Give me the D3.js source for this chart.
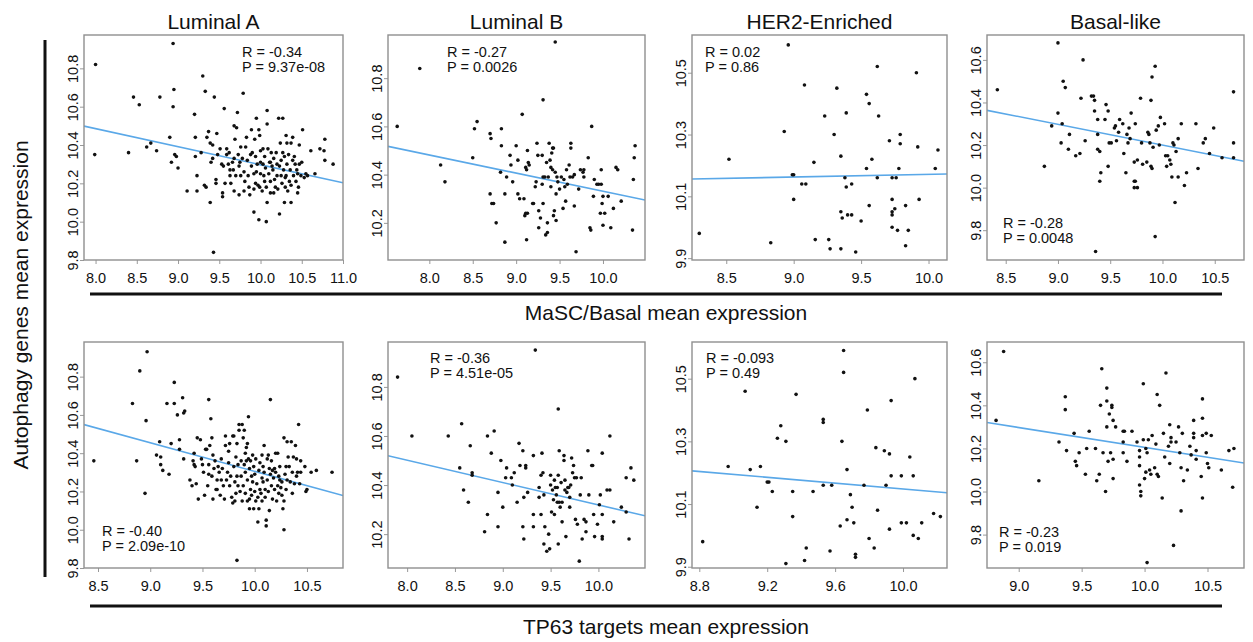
<!DOCTYPE html>
<html>
<head>
<meta charset="utf-8">
<script src="https://cdn.jsdelivr.net/npm/d3@7"></script>
<style>
  body { margin: 0; background: #fff; }
  text { font-family: "Liberation Sans", Arial, sans-serif; fill: #111; }
</style>
</head>
<body>
<div id="chart"></div>
<script>
// column titles / axis labels
const subtypes = ["Luminal A", "Luminal B", "HER2-Enriched", "Basal-like"]
const rowLabels = ["MaSC/Basal mean expression", "TP63 targets mean expression"]
const yTitle = "Autophagy genes mean expression"

// samples [x, y]
const lumA_masc = [[8.00,10.82],[7.99,10.35],[8.94,10.93],[9.30,10.76],[9.33,10.68],[8.46,10.65],[8.53,10.61],[8.78,10.65],[8.95,10.69],[8.94,10.60],[9.44,10.65],[9.56,10.59],[9.79,10.67],[9.72,10.57],[9.20,10.56],[10.08,10.58],[10.08,10.51],[10.22,10.54],[10.27,10.54],[9.95,10.54],[10.51,10.48],[10.78,10.43],[10.88,10.30],[10.78,10.32],[10.77,10.37],[10.72,10.38],[10.66,10.25],[10.61,10.37],[10.47,10.40],[10.57,10.24],[8.40,10.36],[8.62,10.39],[8.67,10.41],[8.74,10.37],[8.90,10.44],[8.92,10.31],[8.96,10.35],[8.98,10.34],[9.00,10.28],[9.11,10.16],[9.23,10.16],[9.23,10.24],[9.21,10.34],[9.21,10.44],[9.28,10.36],[9.32,10.19],[9.34,10.18],[9.39,10.10],[9.35,10.44],[9.37,10.47],[9.39,10.41],[9.40,10.31],[9.47,10.46],[9.42,10.33],[9.42,10.40],[9.43,9.84],[9.46,10.22],[9.46,10.20],[9.54,10.15],[9.54,10.13],[9.51,10.38],[9.53,10.30],[9.55,10.29],[9.57,10.20],[9.59,10.38],[9.59,10.35],[9.61,10.30],[9.63,10.24],[9.64,10.20],[9.68,10.50],[9.69,10.43],[9.68,10.33],[9.68,10.16],[9.67,10.27],[9.70,10.24],[9.71,10.49],[9.73,10.35],[9.74,10.29],[9.74,10.14],[9.76,10.39],[9.78,10.33],[9.80,10.26],[9.81,10.21],[9.82,10.39],[9.83,10.44],[9.84,10.32],[9.85,10.24],[9.87,10.14],[9.88,10.35],[9.89,10.29],[9.89,10.48],[9.92,10.05],[9.93,10.43],[9.94,10.34],[9.94,10.20],[9.96,10.30],[9.97,10.19],[9.98,10.48],[9.98,10.01],[9.99,10.45],[10.00,10.37],[10.00,10.25],[10.02,10.16],[10.03,10.38],[10.03,10.30],[10.04,10.24],[10.05,10.34],[10.06,10.28],[10.07,10.00],[10.07,10.18],[10.08,10.10],[10.09,10.38],[10.10,10.25],[10.11,10.31],[10.12,10.15],[10.13,10.36],[10.15,10.27],[10.16,10.33],[10.17,10.22],[10.18,10.18],[10.20,10.30],[10.20,10.24],[10.21,10.17],[10.23,10.29],[10.23,10.04],[10.24,10.41],[10.25,10.24],[10.25,10.32],[10.26,10.20],[10.28,10.27],[10.29,10.10],[10.29,10.34],[10.30,10.18],[10.31,10.24],[10.31,10.45],[10.32,10.30],[10.33,10.16],[10.34,10.35],[10.36,10.27],[10.37,10.19],[10.37,10.10],[10.39,10.44],[10.39,10.32],[10.40,10.24],[10.42,10.30],[10.43,10.21],[10.44,10.27],[10.45,10.15],[10.46,10.18],[10.47,10.30],[10.49,10.24],[10.50,10.31],[10.53,10.23],[10.55,10.25],[9.99,10.18],[9.92,10.17],[9.86,10.18],[10.12,10.21],[10.16,10.15],[9.63,10.27],[9.76,10.24],[10.12,10.31],[10.32,10.41],[10.37,10.41],[9.92,10.25],[10.00,10.31],[10.45,10.25],[10.30,10.23],[9.48,10.35],[9.62,10.36],[9.66,10.31],[9.75,10.31],[9.90,10.36],[10.05,10.21],[10.14,10.29],[10.19,10.36],[10.27,10.36],[10.35,10.21],[10.41,10.34],[9.80,10.16],[9.95,10.26]]

const lumB_masc = [[7.63,10.60],[7.89,10.84],[9.45,10.95],[9.31,10.71],[9.07,10.65],[9.87,10.60],[8.55,10.62],[8.52,10.59],[8.83,10.59],[8.70,10.57],[8.71,10.55],[8.83,10.52],[9.00,10.52],[8.50,10.47],[8.13,10.44],[8.18,10.37],[8.82,10.41],[8.89,10.39],[8.70,10.32],[8.72,10.28],[8.74,10.28],[8.87,10.32],[8.96,10.37],[8.93,10.48],[8.94,10.44],[9.02,10.46],[9.02,10.32],[9.04,10.30],[9.09,10.30],[9.11,10.43],[9.13,10.50],[9.14,10.45],[9.15,10.44],[9.12,10.42],[9.10,10.23],[9.11,10.24],[9.13,10.24],[8.77,10.20],[8.87,10.12],[9.12,10.13],[9.19,10.28],[9.20,10.28],[9.22,10.35],[9.23,10.37],[9.24,10.53],[9.25,10.48],[9.26,10.25],[9.26,10.18],[9.28,10.22],[9.30,10.48],[9.30,10.36],[9.31,10.39],[9.31,10.28],[9.33,10.39],[9.34,10.15],[9.36,10.16],[9.35,10.45],[9.36,10.20],[9.37,10.39],[9.38,10.53],[9.39,10.46],[9.40,10.43],[9.40,10.35],[9.41,10.49],[9.42,10.42],[9.42,10.51],[9.43,10.23],[9.43,10.51],[9.44,10.25],[9.45,10.41],[9.46,10.32],[9.46,10.21],[9.47,10.39],[9.48,10.37],[9.50,10.34],[9.52,10.39],[9.54,10.26],[9.55,10.38],[9.56,10.35],[9.57,10.29],[9.58,10.42],[9.59,10.36],[9.61,10.44],[9.62,10.39],[9.63,10.53],[9.63,10.51],[9.65,10.39],[9.67,10.27],[9.67,10.40],[9.69,10.08],[9.72,10.34],[9.74,10.42],[9.77,10.41],[9.78,10.42],[9.78,10.39],[9.83,10.47],[9.85,10.18],[9.86,10.17],[9.89,10.31],[9.90,10.38],[9.93,10.36],[9.95,10.36],[9.97,10.24],[9.98,10.42],[9.98,10.36],[9.99,10.28],[10.00,10.31],[10.00,10.19],[10.02,10.24],[10.06,10.31],[10.09,10.18],[10.12,10.26],[10.15,10.43],[10.17,10.42],[10.21,10.29],[10.34,10.17],[10.35,10.38],[10.36,10.47],[10.37,10.52]]

const her2_masc = [[8.96,10.59],[8.30,9.98],[8.52,10.22],[8.83,9.95],[8.93,10.31],[8.99,10.17],[9.00,10.17],[9.00,10.09],[9.06,10.14],[9.09,10.14],[9.08,10.46],[9.15,10.21],[9.16,9.96],[9.23,10.36],[9.27,9.93],[9.26,9.96],[9.30,10.30],[9.32,10.45],[9.35,10.23],[9.35,10.05],[9.36,10.03],[9.35,9.93],[9.38,10.16],[9.39,10.37],[9.39,10.13],[9.40,10.04],[9.43,10.04],[9.43,10.14],[9.46,9.92],[9.50,10.02],[9.54,10.43],[9.54,10.19],[9.56,10.40],[9.56,10.07],[9.58,10.22],[9.62,10.52],[9.62,10.16],[9.63,10.36],[9.71,10.28],[9.73,10.16],[9.73,10.09],[9.73,10.04],[9.73,10.05],[9.75,10.06],[9.73,10.00],[9.77,9.99],[9.78,10.19],[9.79,10.30],[9.79,10.27],[9.76,10.16],[9.85,9.99],[9.83,9.94],[9.83,10.07],[9.91,10.50],[9.92,10.26],[9.93,10.09],[10.05,10.19],[10.07,10.25]]

const basal_masc = [[8.42,10.46],[9.00,10.68],[9.24,10.60],[9.05,10.50],[9.07,10.47],[9.00,10.35],[9.04,10.30],[8.94,10.29],[8.87,10.10],[9.03,10.21],[9.11,10.25],[9.10,10.18],[9.17,10.15],[9.21,10.16],[9.22,10.42],[9.26,10.22],[9.32,10.43],[9.34,10.43],[9.35,10.41],[9.35,10.36],[9.38,10.32],[9.38,10.25],[9.38,10.18],[9.40,10.17],[9.41,10.07],[9.40,10.03],[9.36,9.70],[9.45,10.32],[9.46,10.39],[9.48,10.36],[9.49,10.21],[9.51,10.21],[9.48,10.10],[9.54,10.28],[9.55,10.29],[9.56,10.22],[9.58,10.26],[9.59,10.32],[9.62,10.30],[9.63,10.16],[9.65,10.07],[9.66,10.25],[9.67,10.21],[9.68,10.28],[9.69,10.23],[9.70,10.35],[9.73,10.12],[9.73,10.03],[9.73,10.00],[9.76,10.00],[9.74,10.30],[9.76,10.13],[9.79,10.42],[9.80,10.21],[9.81,10.11],[9.85,10.12],[9.86,10.26],[9.87,10.25],[9.88,10.21],[9.89,10.10],[9.89,10.41],[9.90,10.52],[9.90,10.09],[9.91,10.19],[9.93,10.57],[9.93,9.77],[9.94,10.27],[9.96,10.29],[9.97,10.20],[9.98,10.33],[10.02,10.30],[10.03,10.15],[10.05,10.15],[10.04,10.10],[10.07,10.13],[10.08,10.11],[10.09,10.05],[10.10,10.21],[10.11,10.20],[10.12,9.93],[10.13,10.17],[10.15,10.23],[10.15,10.05],[10.18,10.30],[10.21,10.01],[10.23,10.07],[10.32,10.30],[10.34,10.09],[10.39,10.21],[10.41,10.23],[10.45,10.16],[10.49,10.28],[10.57,10.14],[10.68,10.45],[10.68,10.21],[10.68,10.14],[9.74,10.03]]

const lumA_tp63 = [[8.46,10.36],[8.97,10.93],[8.90,10.83],[9.23,10.77],[8.83,10.66],[8.96,10.57],[8.87,10.36],[8.95,10.19],[9.16,10.66],[9.23,10.66],[9.31,10.69],[9.33,10.62],[9.32,10.61],[9.26,10.60],[9.28,10.47],[9.20,10.45],[9.09,10.46],[9.06,10.39],[9.10,10.38],[9.10,10.34],[9.12,10.31],[9.18,10.29],[9.28,10.42],[9.32,10.37],[9.40,10.23],[9.42,10.40],[9.41,10.36],[9.42,10.34],[9.43,10.33],[9.44,10.24],[9.46,10.16],[9.45,10.48],[9.48,10.47],[9.50,10.34],[9.51,10.30],[9.52,10.18],[9.53,10.42],[9.54,10.42],[9.55,10.23],[9.56,10.34],[9.56,10.29],[9.56,10.68],[9.57,10.44],[9.58,10.58],[9.59,10.28],[9.59,10.48],[9.60,10.16],[9.60,10.39],[9.61,10.32],[9.62,10.36],[9.63,10.21],[9.64,10.26],[9.64,10.21],[9.65,10.33],[9.66,10.30],[9.67,10.18],[9.68,10.37],[9.68,10.26],[9.69,10.32],[9.70,10.23],[9.71,10.16],[9.72,10.44],[9.72,10.49],[9.73,10.26],[9.74,10.30],[9.75,10.35],[9.75,10.41],[9.76,10.45],[9.76,10.23],[9.77,10.28],[9.78,10.17],[9.79,10.49],[9.79,10.14],[9.80,10.33],[9.80,10.49],[9.81,10.25],[9.81,10.15],[9.82,10.19],[9.82,10.38],[9.83,10.28],[9.83,10.45],[9.84,10.23],[9.84,10.34],[9.85,10.52],[9.85,10.55],[9.86,10.20],[9.87,10.36],[9.87,10.28],[9.88,10.55],[9.88,10.15],[9.89,10.48],[9.89,10.23],[9.90,10.52],[9.90,10.34],[9.91,10.40],[9.91,10.30],[9.91,10.19],[9.92,10.43],[9.92,10.36],[9.93,10.15],[9.93,10.45],[9.93,10.26],[9.94,10.37],[9.94,10.59],[9.95,10.16],[9.95,10.32],[9.95,10.11],[9.96,10.21],[9.96,10.36],[9.97,10.28],[9.97,10.18],[9.98,10.39],[9.98,10.25],[9.99,10.11],[9.99,10.33],[10.00,10.20],[10.00,10.29],[10.01,10.15],[10.01,10.37],[10.02,10.24],[10.03,10.04],[10.03,10.17],[10.04,10.31],[10.04,10.11],[10.05,10.21],[10.05,10.35],[10.06,10.19],[10.07,10.27],[10.07,10.15],[10.07,10.39],[10.08,10.25],[10.08,10.33],[10.09,10.44],[10.09,10.30],[10.10,10.21],[10.10,10.17],[10.11,10.05],[10.11,10.02],[10.12,10.37],[10.12,10.26],[10.13,10.39],[10.13,10.20],[10.14,10.10],[10.14,10.32],[10.15,10.68],[10.15,10.29],[10.16,10.36],[10.16,10.23],[10.17,10.16],[10.17,10.31],[10.18,10.27],[10.19,10.32],[10.19,10.21],[10.20,10.40],[10.20,10.30],[10.21,10.15],[10.22,10.23],[10.22,10.40],[10.23,10.28],[10.23,10.19],[10.24,10.26],[10.24,10.33],[10.25,10.22],[10.26,10.18],[10.26,10.25],[10.27,10.11],[10.28,10.15],[10.28,10.00],[10.28,10.48],[10.29,10.29],[10.30,10.33],[10.30,10.21],[10.31,10.46],[10.31,10.26],[10.32,10.38],[10.33,10.33],[10.34,10.25],[10.35,10.46],[10.36,10.19],[10.36,10.30],[10.37,10.38],[10.38,10.24],[10.39,10.44],[10.40,10.37],[10.40,10.28],[10.41,10.30],[10.42,10.55],[10.43,10.24],[10.44,10.36],[10.44,10.30],[10.49,10.20],[10.50,10.21],[10.48,10.33],[10.54,10.30],[10.59,10.31],[10.74,10.30],[9.83,9.84],[9.49,10.37],[9.38,10.26]]

const lumB_tp63 = [[7.90,10.84],[8.05,10.60],[9.34,10.95],[9.58,10.71],[8.43,10.60],[8.57,10.65],[8.66,10.56],[8.55,10.47],[8.59,10.38],[8.64,10.33],[8.68,10.45],[8.68,10.44],[8.84,10.60],[8.91,10.62],[8.88,10.53],[8.84,10.28],[8.81,10.21],[8.95,10.37],[8.95,10.23],[8.98,10.50],[9.00,10.31],[9.03,10.43],[9.04,10.47],[9.09,10.43],[9.10,10.40],[9.12,10.45],[9.15,10.33],[9.17,10.57],[9.18,10.48],[9.21,10.54],[9.22,10.35],[9.21,10.23],[9.22,10.18],[9.24,10.47],[9.24,10.48],[9.26,10.37],[9.32,10.52],[9.32,10.28],[9.32,10.23],[9.38,10.39],[9.38,10.35],[9.40,10.44],[9.40,10.28],[9.41,10.53],[9.42,10.45],[9.43,10.36],[9.43,10.16],[9.44,10.23],[9.46,10.13],[9.48,10.20],[9.49,10.14],[9.50,10.44],[9.50,10.40],[9.51,10.29],[9.52,10.38],[9.53,10.34],[9.54,10.28],[9.54,10.42],[9.55,10.39],[9.56,10.36],[9.57,10.33],[9.57,10.39],[9.58,10.44],[9.58,10.16],[9.59,10.54],[9.59,10.33],[9.60,10.31],[9.61,10.41],[9.62,10.25],[9.62,10.33],[9.64,10.52],[9.64,10.50],[9.65,10.38],[9.65,10.42],[9.66,10.19],[9.67,10.37],[9.68,10.39],[9.69,10.39],[9.70,10.35],[9.70,10.31],[9.71,10.40],[9.72,10.51],[9.73,10.45],[9.74,10.48],[9.75,10.43],[9.76,10.26],[9.77,10.43],[9.78,10.24],[9.80,10.09],[9.81,10.36],[9.82,10.43],[9.83,10.18],[9.85,10.26],[9.87,10.25],[9.87,10.21],[9.89,10.54],[9.90,10.36],[9.93,10.48],[9.94,10.48],[9.95,10.28],[9.96,10.19],[9.99,10.24],[10.01,10.32],[10.02,10.36],[10.04,10.53],[10.04,10.28],[10.04,10.19],[10.04,10.18],[10.09,10.38],[10.12,10.38],[10.12,10.60],[10.16,10.25],[10.24,10.31],[10.29,10.43],[10.29,10.29],[10.32,10.18],[10.34,10.47],[10.37,10.42]]

const her2_tp63 = [[8.82,9.98],[9.65,10.59],[9.65,10.52],[10.07,10.50],[9.07,10.46],[9.37,10.45],[9.93,10.43],[9.79,10.40],[9.53,10.37],[9.53,10.36],[9.28,10.35],[9.26,10.31],[9.31,10.30],[9.64,10.30],[9.84,10.28],[9.89,10.27],[9.92,10.26],[10.04,10.25],[8.97,10.22],[9.10,10.21],[9.16,10.22],[9.67,10.21],[9.20,10.17],[9.21,10.17],[9.99,10.19],[9.93,10.19],[10.06,10.19],[9.23,10.14],[9.35,10.14],[9.47,10.14],[9.53,10.16],[9.58,10.16],[9.77,10.16],[9.90,10.16],[9.69,10.13],[9.14,10.09],[9.35,10.06],[9.70,10.09],[9.85,10.08],[9.67,10.05],[9.71,10.04],[9.63,10.03],[9.99,10.04],[10.02,10.04],[10.11,10.04],[10.18,10.07],[10.22,10.06],[9.92,10.02],[9.80,9.99],[10.06,10.00],[10.09,9.99],[9.43,9.96],[9.57,9.95],[9.72,9.94],[9.72,9.93],[9.83,9.96],[9.42,9.92],[9.31,9.91]]

const basal_tp63 = [[8.82,10.33],[8.88,10.65],[9.16,10.05],[9.32,10.23],[9.37,10.44],[9.37,10.38],[9.38,10.19],[9.44,10.27],[9.45,10.14],[9.46,10.12],[9.48,10.18],[9.53,10.08],[9.54,10.20],[9.56,10.28],[9.61,10.20],[9.62,10.05],[9.64,10.08],[9.65,10.40],[9.66,10.57],[9.67,10.18],[9.69,10.00],[9.70,10.30],[9.70,10.48],[9.70,10.42],[9.71,10.14],[9.72,10.36],[9.73,10.18],[9.74,10.40],[9.74,10.39],[9.75,10.33],[9.75,10.15],[9.75,10.06],[9.77,10.30],[9.83,10.28],[9.83,10.23],[9.83,10.18],[9.84,10.28],[9.86,10.14],[9.90,10.28],[9.94,10.23],[9.96,10.19],[9.96,10.16],[9.96,10.12],[9.96,10.03],[9.97,10.00],[9.97,9.98],[9.99,10.50],[9.99,10.24],[10.01,10.20],[10.02,10.18],[10.03,10.24],[10.02,9.67],[10.01,10.09],[10.04,10.10],[10.05,10.08],[10.06,10.26],[10.08,10.11],[10.09,10.22],[10.10,10.45],[10.10,10.08],[10.11,10.07],[10.12,10.40],[10.14,9.97],[10.15,10.27],[10.16,10.16],[10.17,10.55],[10.19,10.21],[10.20,10.13],[10.20,10.31],[10.21,10.25],[10.21,10.23],[10.23,9.75],[10.25,10.23],[10.27,10.30],[10.28,10.18],[10.29,10.11],[10.30,10.27],[10.29,9.91],[10.31,10.05],[10.34,10.10],[10.36,10.21],[10.37,10.17],[10.39,10.27],[10.39,10.25],[10.39,10.33],[10.41,10.19],[10.41,10.15],[10.45,10.07],[10.46,10.34],[10.46,10.26],[10.46,10.43],[10.46,9.97],[10.49,10.18],[10.49,10.27],[10.50,10.13],[10.51,10.11],[10.53,10.26],[10.61,10.10],[10.67,10.19],[10.71,10.20],[10.70,10.02],[10.00,10.06]]

// correlation stats as printed on each panel
const rText = ["R = -0.34", "R = -0.27", "R = 0.02", "R = -0.28", "R = -0.40", "R = -0.36", "R = -0.093", "R = -0.23"]
const pText = ["P = 9.37e-08", "P = 0.0026", "P = 0.86", "P = 0.0048", "P = 2.09e-10", "P = 4.51e-05", "P = 0.49", "P = 0.019"]

// fitted line y = a + b*x
const fitA = [11.24, 11.084, 10.086, 11.172, 11.802, 11.231, 10.614, 11.125]
const fitB = [-0.0943, -0.0753, 0.0085, -0.0972, -0.1497, -0.0912, -0.0466, -0.092]

// axis limits and tick labels
const xLims = [[7.86, 11.0], [7.524, 10.484], [8.246, 10.137], [8.321, 10.78], [8.366, 10.845], [7.80, 10.487], [8.757, 10.259], [8.748, 10.79]]
const yLims = [[9.8, 10.974], [10.046, 10.979], [9.894, 10.622], [9.66, 10.717], [9.8, 10.981], [10.062, 10.983], [9.896, 10.617], [9.645, 10.694]]
const xTicks = [
    [8.0, 8.5, 9.0, 9.5, 10.0, 10.5, 11.0],
    [8.0, 8.5, 9.0, 9.5, 10.0],
    [8.5, 9.0, 9.5, 10.0],
    [8.5, 9.0, 9.5, 10.0, 10.5],
    [8.5, 9.0, 9.5, 10.0, 10.5],
    [8.0, 8.5, 9.0, 9.5, 10.0],
    [8.8, 9.2, 9.6, 10.0],
    [9.0, 9.5, 10.0, 10.5]
]
const yTicks = [
    [9.8, 10.0, 10.2, 10.4, 10.6, 10.8],
    [10.2, 10.4, 10.6, 10.8],
    [9.9, 10.1, 10.3, 10.5],
    [9.8, 10.0, 10.2, 10.4, 10.6],
    [9.8, 10.0, 10.2, 10.4, 10.6, 10.8],
    [10.2, 10.4, 10.6, 10.8],
    [9.9, 10.1, 10.3, 10.5],
    [9.8, 10.0, 10.2, 10.4, 10.6]
]

const samples = [lumA_masc, lumB_masc, her2_masc, basal_masc, lumA_tp63, lumB_tp63, her2_tp63, basal_tp63]

// page layout
const W = 1253, H = 642
const colLeft = [84, 388, 692, 987]
const colRight = [343, 645, 947, 1244]
const rowTop = [35, 342]
const rowBottom = [260, 568]
// where the R/P note sits: [dx from left, dy of first baseline, from top (t) or bottom (b)]
const notePos = [[158, 22, "t"], [59, 22, "t"], [13, 22, "t"], [16, -32, "b"], [18, -32, "b"], [42, 21, "t"], [14, 21, "t"], [12, -31, "b"]]

let svg = d3.select("#chart")
    .append("svg")
    .attr("width", W)
    .attr("height", H)

svg.append("rect").attr("width", W).attr("height", H).attr("fill", "#fff")

// column titles
svg.selectAll(".coltitle")
    .data(subtypes)
    .enter()
    .append("text")
    .attr("x", (d, i) => (colLeft[i] + colRight[i]) / 2)
    .attr("y", 29)
    .attr("text-anchor", "middle")
    .style("font-size", "21px")
    .text(d => d)

for (let k = 0; k < 8; k++) {
    const row = Math.floor(k / 4), col = k % 4
    const x0 = colLeft[col], x1 = colRight[col]
    const y0 = rowTop[row], y1 = rowBottom[row]

    let x = d3.scaleLinear().domain(xLims[k]).range([x0, x1])
    let y = d3.scaleLinear().domain(yLims[k]).range([y1, y0])

    let g = svg.append("g")

    g.append("clipPath").attr("id", "clip" + k)
        .append("rect").attr("x", x0).attr("y", y0).attr("width", x1 - x0).attr("height", y1 - y0)

    // bottom axis
    let ax = g.append("g")
        .attr("transform", "translate(0," + y1 + ")")
        .call(d3.axisBottom(x).tickValues(xTicks[k]).tickFormat(d3.format(".1f")).tickSize(4).tickPadding(9))
    ax.select(".domain").remove()
    ax.selectAll("line").attr("stroke", "#999")
    ax.selectAll("text").style("font-size", "14.5px").attr("fill", "#111")

    // left axis, labels turned like base R
    let ay = g.append("g")
        .attr("transform", "translate(" + x0 + ",0)")
        .call(d3.axisLeft(y).tickValues(yTicks[k]).tickFormat(d3.format(".1f")).tickSize(4))
    ay.select(".domain").remove()
    ay.selectAll("line").attr("stroke", "#999")
    ay.selectAll("text")
        .attr("transform", "rotate(-90)")
        .attr("x", 0)
        .attr("y", -6)
        .attr("dy", 0)
        .attr("text-anchor", "middle")
        .style("font-size", "14.5px")
        .attr("fill", "#111")

    // fitted line
    g.append("path")
        .datum(xLims[k])
        .attr("clip-path", "url(#clip" + k + ")")
        .attr("fill", "none")
        .attr("stroke", "#5aa8e8")
        .attr("stroke-width", 1.6)
        .attr("d", d3.line().x(d => x(d)).y(d => y(fitA[k] + fitB[k] * d)))

    // points
    g.selectAll(".pt")
        .data(samples[k])
        .enter()
        .append("circle")
        .attr("cx", d => x(d[0]))
        .attr("cy", d => y(d[1]))
        .attr("r", 1.8)
        .attr("fill", "#111")

    // frame
    g.append("rect")
        .attr("x", x0).attr("y", y0)
        .attr("width", x1 - x0).attr("height", y1 - y0)
        .attr("fill", "none")
        .attr("stroke", "#8f8f8f")
        .attr("stroke-width", 1.4)

    // R / P note
    const np = notePos[k]
    const by = np[2] === "t" ? y0 + np[1] : y1 + np[1]
    g.append("text").attr("x", x0 + np[0]).attr("y", by).style("font-size", "14.5px").text(rText[k])
    g.append("text").attr("x", x0 + np[0]).attr("y", by + 15).style("font-size", "14.5px").text(pText[k])
}

// row rules and x labels
const ruleY = [294, 606]
const labelY = [320, 634]
ruleY.forEach((ry, i) => {
    svg.append("line")
        .attr("x1", 90).attr("x2", 1222)
        .attr("y1", ry).attr("y2", ry)
        .attr("stroke", "#111").attr("stroke-width", 3)
    svg.append("text")
        .attr("x", 666).attr("y", labelY[i])
        .attr("text-anchor", "middle")
        .style("font-size", "21px")
        .text(rowLabels[i])
})

// left rule and y label
svg.append("line")
    .attr("x1", 45).attr("x2", 45)
    .attr("y1", 40).attr("y2", 577)
    .attr("stroke", "#111").attr("stroke-width", 3)

svg.append("text")
    .attr("transform", "translate(28,305) rotate(-90)")
    .attr("text-anchor", "middle")
    .style("font-size", "21px")
    .text(yTitle)
</script>
</body>
</html>
